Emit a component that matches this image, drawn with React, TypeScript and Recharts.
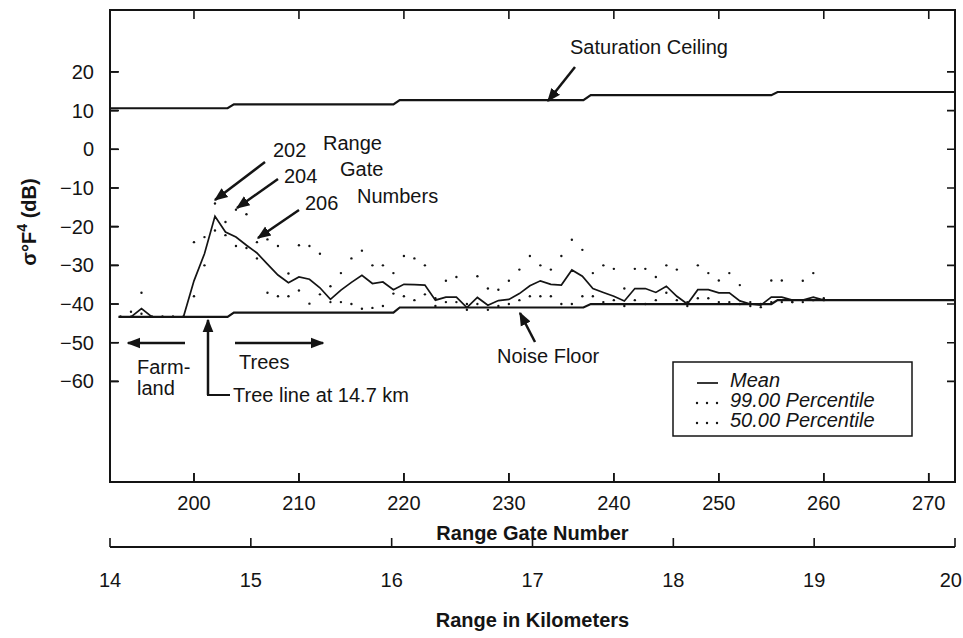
import React from "react";
import { ComposedChart, Line, XAxis, YAxis } from "recharts";

// range gate numbers sampled by the mean / percentile traces
const GATES = [
  193, 194, 195, 196, 197, 198, 199, 200, 201, 202, 203, 204, 205, 206, 207, 208, 209,
  210, 211, 212, 213, 214, 215, 216, 217, 218, 219, 220, 221, 222, 223, 224, 225, 226,
  227, 228, 229, 230, 231, 232, 233, 234, 235, 236, 237, 238, 239, 240, 241, 242, 243,
  244, 245, 246, 247, 248, 249, 250, 251, 252, 253, 254, 255, 256, 257, 258, 259, 260,
];
const MEAN_DB = [
  -43.3, -43.3, -41.2, -43.3, -43.3, -43.3, -43.3, -34, -27, -17.3, -21.4, -22.7, -24.8,
  -26.8, -29.7, -32.5, -34.5, -33, -33.6, -35.8, -38.8, -36.4, -34.4, -32.6, -34.7, -34.3,
  -36.3, -34.9, -35, -35.1, -39, -38.2, -38.2, -40.9, -38.3, -40.3, -39.1, -38.8, -37.3,
  -35.3, -34, -34.9, -35.1, -31.2, -32.8, -36, -37, -38, -39.2, -36, -36, -37, -35.4, -38,
  -40, -36.3, -36.3, -37.1, -37.1, -39.2, -40, -40.3, -38.2, -38.2, -39, -39, -38.2, -39,
];
const P99_DB = [
  -43.3, -42, -37.1, -43.3, -43.3, -43.3, -43.3, -24, -22.7, -14, -18.8, -15.6, -16.8,
  -24, -23.3, -25, -32.1, -24.8, -25, -27, -35.4, -32, -28.2, -26.2, -30, -30, -32, -27.6,
  -28.2, -30, -38.5, -34, -33, -40, -32.8, -36, -36.3, -34, -31.1, -27.6, -30, -31.1,
  -27.6, -23.4, -26, -32, -30, -30.9, -36, -30.9, -30.9, -33, -30, -31.1, -39.5, -30, -32,
  -33.9, -32, -35.1, -39.5, -40, -33.9, -33.9, -39.5, -34, -32, -38.5,
];
const P50_DB = [
  -43.3, -43.3, -42.5, -43.3, -43.3, -43.3, -43.3, -38, -30, -21, -22.2, -25, -25.5,
  -28.2, -37.1, -38, -38, -36.5, -39.9, -37.5, -39.5, -39.5, -40, -41.2, -41, -40.5,
  -37.3, -38, -39, -37.5, -40.5, -39.5, -39.5, -41.5, -40, -41.5, -40.5, -40, -39, -38,
  -38, -38, -40, -40, -38, -38, -39.5, -39, -40.5, -39, -40, -39, -37.1, -39, -40.5,
  -38.5, -38.5, -39.5, -39.5, -40, -40.5, -40.8, -39.5, -39.5, -39.5, -39.5, -39, -39,
];

const CEILING_GATES = [192, 203.2, 203.8, 219, 219.6, 237.1, 237.8, 255, 255.6, 272.5];
const CEILING_DB = [10.6, 10.6, 11.6, 11.6, 12.7, 12.7, 14, 14, 14.8, 14.8];
const FLOOR_GATES = [192.8, 203.2, 203.8, 219, 219.6, 237.1, 237.8, 255, 255.6, 272.5];
const FLOOR_DB = [-43.3, -43.3, -42.2, -42.2, -40.9, -40.9, -40, -40, -39, -39];

const GATE_TICKS = [200, 210, 220, 230, 240, 250, 260, 270];
const KM_TICKS = [14, 15, 16, 17, 18, 19, 20];
const DB_TICKS = [20, 10, 0, -10, -20, -30, -40, -50, -60];

const LEGEND_ITEMS = ["Mean", "99.00 Percentile", "50.00 Percentile"];

const X_MIN = 192;
const X_MAX = 272.5;
const Y_MIN = -86;
const Y_MAX = 36;

const W = 963;
const H = 638;
const MARGIN = { top: 10, right: 8, bottom: 0, left: 0 };
const Y_AXIS_W = 110;
const GATE_AXIS_H = 65;
const KM_AXIS_H = 91;
const PLOT_L = MARGIN.left + Y_AXIS_W;
const PLOT_T = MARGIN.top;
const PLOT_W = W - MARGIN.right - PLOT_L;
const PLOT_H = H - PLOT_T - GATE_AXIS_H - KM_AXIS_H;
const TICK = 9;

// same linear mapping as the chart axes, used only for the frame's inward ticks
const gx = (g: number) => PLOT_L + ((g - X_MIN) / (X_MAX - X_MIN)) * PLOT_W;
const dbY = (v: number) => PLOT_T + ((Y_MAX - v) / (Y_MAX - Y_MIN)) * PLOT_H;

const framePath = [
  ...GATE_TICKS.map((g) => `M${gx(g)},${PLOT_T + PLOT_H}v${-TICK}M${gx(g)},${PLOT_T}v${TICK}`),
  ...DB_TICKS.map((v) => `M${PLOT_L},${dbY(v)}h${TICK - 1}M${PLOT_L + PLOT_W},${dbY(v)}h${1 - TICK}`),
].join("");

const INK = "#141414";
const FONT = '"Liberation Sans", Arial, Helvetica, sans-serif';

const toRows = (xs: number[], ys: number[]) => xs.map((g, i) => ({ g, v: ys[i] }));
const meanData = toRows(GATES, MEAN_DB);
const p99Data = toRows(GATES, P99_DB);
const p50Data = toRows(GATES, P50_DB);
const ceilingData = toRows(CEILING_GATES, CEILING_DB);
const floorData = toRows(FLOOR_GATES, FLOOR_DB);
// empty rows that only tie the kilometre axis to a series
const kmRows = KM_TICKS.map((km) => ({ km }));

const fmt = (v: number) => (v < 0 ? "\u2212" + Math.abs(v) : String(v));

function GateTick({ x, y, payload }: any) {
  return (
    <text x={x} y={y + 37} textAnchor="middle" fontSize={20} fill={INK} fontFamily={FONT}>
      {payload.value}
    </text>
  );
}

function KmTick({ x, y, payload }: any) {
  const last = payload.value === KM_TICKS[KM_TICKS.length - 1];
  return (
    <text
      x={last ? x + 7 : x}
      y={y + 49}
      textAnchor={last ? "end" : "middle"}
      fontSize={20}
      fill={INK}
      fontFamily={FONT}
    >
      {payload.value}
    </text>
  );
}

function DbTick({ x, y, payload }: any) {
  return (
    <text x={x - 25} y={y + 7} textAnchor="end" fontSize={20} fill={INK} fontFamily={FONT}>
      {fmt(payload.value)}
    </text>
  );
}

const axisLine = { stroke: INK, strokeWidth: 2 };
const tickLine = { stroke: INK, strokeWidth: 1.6 };

export default function App() {
  return (
    <div style={{ position: "absolute", left: 0, top: 0, width: W, height: H, background: "#fff" }}>
      <ComposedChart width={W} height={H} margin={MARGIN}>
        <XAxis
          xAxisId="g"
          dataKey="g"
          type="number"
          domain={[X_MIN, X_MAX]}
          ticks={GATE_TICKS}
          interval={0}
          allowDataOverflow
          height={GATE_AXIS_H}
          axisLine={axisLine}
          tickLine={tickLine}
          tickSize={-TICK}
          tickMargin={0}
          tick={<GateTick />}
          label={{
            content: ({ viewBox }: any) => (
              <text
                x={viewBox.x + viewBox.width / 2}
                y={viewBox.y + 58}
                textAnchor="middle"
                fontSize={20}
                fontWeight="bold"
                fill={INK}
                fontFamily={FONT}
              >
                Range Gate Number
              </text>
            ),
          }}
        />
        <XAxis
          xAxisId="km"
          dataKey="km"
          type="number"
          domain={[14, 20]}
          ticks={KM_TICKS}
          interval={0}
          allowDataOverflow
          height={KM_AXIS_H}
          axisLine={axisLine}
          tickLine={tickLine}
          tickSize={-TICK}
          tickMargin={0}
          tick={<KmTick />}
          label={{
            content: ({ viewBox }: any) => (
              <text
                x={viewBox.x + viewBox.width / 2}
                y={viewBox.y + 80}
                textAnchor="middle"
                fontSize={20}
                fontWeight="bold"
                fill={INK}
                fontFamily={FONT}
              >
                Range in Kilometers
              </text>
            ),
          }}
        />
        <YAxis
          yAxisId="db"
          type="number"
          domain={[Y_MIN, Y_MAX]}
          ticks={DB_TICKS}
          interval={0}
          allowDataOverflow
          width={Y_AXIS_W}
          axisLine={axisLine}
          tickLine={tickLine}
          tickSize={-TICK}
          tickMargin={0}
          tick={<DbTick />}
          label={{
            content: ({ viewBox }: any) => {
              const cx = viewBox.x + 29;
              const cy = viewBox.y + viewBox.height / 2 - 24;
              return (
                <text
                  x={cx}
                  y={cy}
                  transform={`rotate(-90, ${cx}, ${cy})`}
                  textAnchor="middle"
                  dominantBaseline="central"
                  fontSize={20}
                  fontWeight="bold"
                  fill={INK}
                  fontFamily={FONT}
                >
                  σ°F
                  <tspan dy={-7} fontSize={14}>4</tspan>
                  <tspan dy={7}> (dB)</tspan>
                </text>
              );
            },
          }}
        />

        <Line
          xAxisId="km"
          yAxisId="db"
          data={kmRows}
          dataKey="v"
          stroke="none"
          dot={false}
          activeDot={false}
          legendType="none"
          isAnimationActive={false}
        />
        <Line
          xAxisId="g"
          yAxisId="db"
          data={ceilingData}
          dataKey="v"
          type="linear"
          stroke={INK}
          strokeWidth={2.2}
          dot={false}
          isAnimationActive={false}
        />
        <Line
          xAxisId="g"
          yAxisId="db"
          data={floorData}
          dataKey="v"
          type="linear"
          stroke={INK}
          strokeWidth={2.2}
          dot={false}
          isAnimationActive={false}
        />
        <Line
          xAxisId="g"
          yAxisId="db"
          data={p99Data}
          dataKey="v"
          stroke="none"
          dot={{ r: 1.2, fill: INK, stroke: "none" }}
          isAnimationActive={false}
        />
        <Line
          xAxisId="g"
          yAxisId="db"
          data={p50Data}
          dataKey="v"
          stroke="none"
          dot={{ r: 1.2, fill: INK, stroke: "none" }}
          isAnimationActive={false}
        />
        <Line
          xAxisId="g"
          yAxisId="db"
          data={meanData}
          dataKey="v"
          type="linear"
          stroke={INK}
          strokeWidth={1.7}
          dot={false}
          isAnimationActive={false}
        />
      </ComposedChart>

      <svg
        width={W}
        height={H}
        viewBox={`0 0 ${W} ${H}`}
        style={{ position: "absolute", left: 0, top: 0, pointerEvents: "none" }}
        fontFamily={FONT}
      >
        <defs>
          <marker
            id="ah"
            viewBox="0 0 10 10"
            refX={9}
            refY={5}
            markerWidth={5.5}
            markerHeight={5.5}
            orient="auto"
            markerUnits="strokeWidth"
          >
            <path d="M0,1 L10,5 L0,9 z" fill={INK} />
          </marker>
        </defs>

        {/* plot frame with inward ticks on all four sides */}
        <rect x={PLOT_L} y={PLOT_T} width={PLOT_W} height={PLOT_H} fill="none" stroke={INK} strokeWidth={2} />
        <path d={framePath} fill="none" stroke={INK} strokeWidth={1.6} />

        <g stroke={INK} strokeWidth={2.5} fill="none">
          <line x1={575} y1={67} x2={548} y2={101} markerEnd="url(#ah)" />
          <line x1={265} y1={162} x2={215} y2={200} markerEnd="url(#ah)" />
          <line x1={278} y1={179} x2={237} y2={208} markerEnd="url(#ah)" />
          <line x1={299} y1={210} x2={258} y2={238} markerEnd="url(#ah)" />
          <line x1={185} y1={343} x2={128} y2={343} markerEnd="url(#ah)" />
          <line x1={235} y1={343} x2={323} y2={343} markerEnd="url(#ah)" />
          <line x1={208} y1={395} x2={208} y2={320} markerEnd="url(#ah)" />
          <line x1={207} y1={395} x2={230} y2={395} strokeWidth={2} />
          <line x1={535} y1={342} x2={520} y2={313} markerEnd="url(#ah)" />
        </g>
        <g fontSize={20} fill={INK}>
          <text x={570} y={54}>Saturation Ceiling</text>
          <text x={273} y={157}>202</text>
          <text x={284} y={183}>204</text>
          <text x={305} y={210}>206</text>
          <text x={323} y={150}>Range</text>
          <text x={340} y={176}>Gate</text>
          <text x={357} y={203}>Numbers</text>
          <text x={137} y={374}>Farm-</text>
          <text x={137} y={395}>land</text>
          <text x={239} y={369}>Trees</text>
          <text x={233} y={402}>Tree line at 14.7 km</text>
          <text x={497} y={363}>Noise Floor</text>
        </g>

        {/* legend */}
        <rect x={673} y={362} width={239} height={74} fill="none" stroke={INK} strokeWidth={1.5} />
        <line x1={697} x2={718} y1={383} y2={383} stroke={INK} strokeWidth={1.7} />
        {[403, 423].map((cy) =>
          [697, 707, 717].map((cx) => <circle key={`${cx}-${cy}`} cx={cx} cy={cy} r={1.2} fill={INK} />)
        )}
        {LEGEND_ITEMS.map((name, i) => (
          <text key={name} x={730} y={387 + i * 20} fontSize={20} fontStyle="italic" fill={INK}>
            {name}
          </text>
        ))}
      </svg>
    </div>
  );
}
